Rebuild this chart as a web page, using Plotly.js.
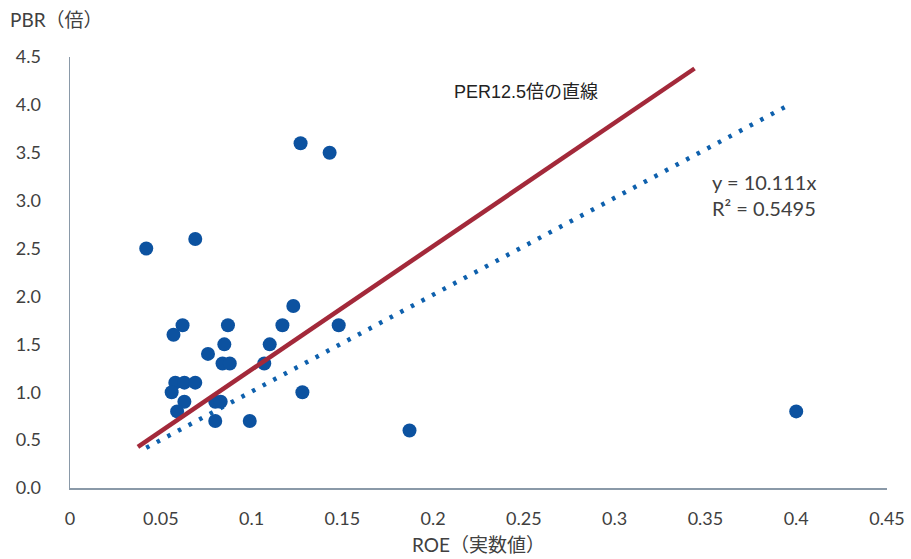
<!DOCTYPE html>
<html>
<head>
<meta charset="utf-8">
<script src="https://cdn.plot.ly/plotly-3.0.1.min.js"></script>
<style>html,body{margin:0;padding:0;background:#fff;}#chart{width:911px;height:559px;}</style>
</head>
<body>
<div id="chart"></div>
<script>
// ROE (actual) and PBR (times) for each company
const roe = [0.042, 0.069, 0.127, 0.143, 0.057, 0.062, 0.087, 0.123, 0.117, 0.148,
             0.110, 0.085, 0.076, 0.084, 0.088, 0.107, 0.058, 0.063, 0.069, 0.056,
             0.063, 0.059, 0.080, 0.083, 0.080, 0.099, 0.128, 0.187, 0.400];
const pbr = [2.5, 2.6, 3.6, 3.5, 1.6, 1.7, 1.7, 1.9, 1.7, 1.7,
             1.5, 1.5, 1.4, 1.3, 1.3, 1.3, 1.1, 1.1, 1.1, 1.0,
             0.9, 0.8, 0.9, 0.9, 0.7, 0.7, 1.0, 0.6, 0.8];
// PER 12.5x line (endpoints as drawn)
const perLineX = [0.0374, 0.344];
const perLineY = [0.43, 4.38];
// Linear trendline y = 10.111x (endpoints as drawn)
const trendX = [0.042, 0.396];
const trendY = [0.42, 4.0];
const xTicks = [0, 0.05, 0.1, 0.15, 0.2, 0.25, 0.3, 0.35, 0.4, 0.45];
const xTickText = ['0', '0.05', '0.1', '0.15', '0.2', '0.25', '0.3', '0.35', '0.4', '0.45'];
const yTicks = [0, 0.5, 1, 1.5, 2, 2.5, 3, 3.5, 4, 4.5];
const yTickText = ['0.0', '0.5', '1.0', '1.5', '2.0', '2.5', '3.0', '3.5', '4.0', '4.5'];

const textColor = '#404040';
const font = 'Lato, "Noto Sans CJK JP", sans-serif';

const traces = [
  {x: trendX, y: trendY, mode: 'lines', type: 'scatter', hoverinfo: 'skip',
   line: {color: '#0E60AD', width: 4.5, dash: '3.5px,8.5px'}},
  {x: roe, y: pbr, mode: 'markers', type: 'scatter',
   marker: {color: '#0C52A0', size: 14, line: {width: 0}}},
  {x: perLineX, y: perLineY, mode: 'lines', type: 'scatter', hoverinfo: 'skip',
   line: {color: '#A3293A', width: 4.5}}
];

const layout = {
  width: 911, height: 559,
  margin: {l: 70, r: 24, t: 57, b: 71},
  paper_bgcolor: '#fff', plot_bgcolor: '#fff',
  showlegend: false,
  font: {family: font, size: 18, color: textColor},
  xaxis: {range: [0, 0.45], tickvals: xTicks, ticktext: xTickText, showgrid: false, zeroline: false,
          showline: true, linecolor: '#8A99A8', linewidth: 1.5, ticks: '', ticklabelstandoff: 14,
          tickfont: {family: font, size: 18, color: textColor}},
  yaxis: {range: [0, 4.5], tickvals: yTicks, ticktext: yTickText, showgrid: false, zeroline: false,
          showline: true, linecolor: '#8A99A8', linewidth: 1.5, ticks: '', ticklabelstandoff: 24,
          tickfont: {family: font, size: 18, color: textColor}},
  annotations: [
    {text: 'PBR（倍）', xref: 'paper', yref: 'paper', x: -0.0759, y: 1.087, xanchor: 'left', yanchor: 'middle',
     showarrow: false, font: {family: font, size: 19, color: textColor}},
    {text: 'ROE（実数値）', xref: 'paper', yref: 'paper', x: 0.5, y: -0.132, xanchor: 'center', yanchor: 'middle',
     showarrow: false, font: {family: font, size: 19, color: textColor}},
    {text: 'PER12.5倍の直線', xref: 'paper', yref: 'paper', x: (452 - 70) / 817, y: (488 - 92) / 431,
     xanchor: 'left', yanchor: 'middle', showarrow: false,
     font: {family: 'Arial, "Noto Sans CJK JP", sans-serif', size: 18, color: '#222'}},
    {text: 'y = 10.111x<br>R² = 0.5495', xref: 'paper', yref: 'paper', x: (710 - 70) / 817, y: (488 - 195) / 431,
     xanchor: 'left', yanchor: 'middle', align: 'left', showarrow: false,
     font: {family: font, size: 20, color: textColor}}
  ]
};

Plotly.newPlot('chart', traces, layout, {displayModeBar: false, staticPlot: true});
</script>
</body>
</html>
